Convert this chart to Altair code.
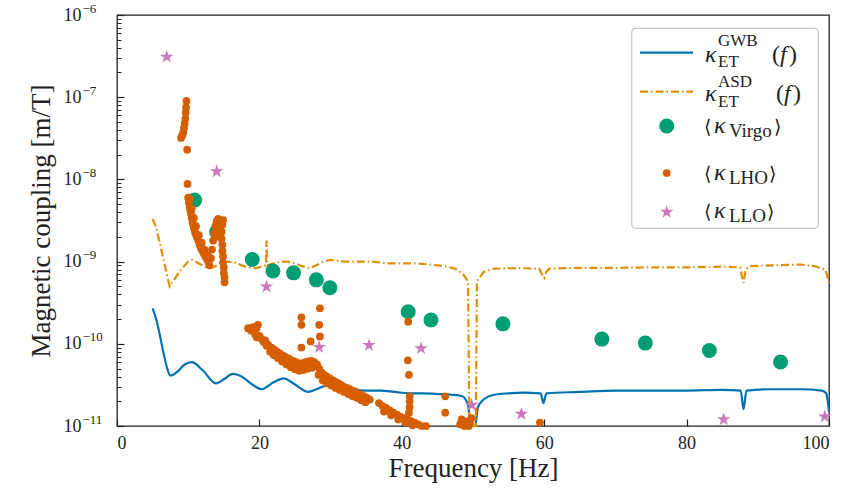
import altair as alt
import pandas as pd

# ---------------- data ----------------
freq_ticks = [0, 20, 40, 60, 80, 100]
y_major = [1e-11, 1e-10, 1e-9, 1e-8, 1e-7, 1e-6]
y_exponents = ["−11", "−10", "−9", "−8", "−7", "−6"]
y_minor = [m * 10.0 ** e for e in range(-11, -6) for m in range(2, 10)]

gwb_f = [5.0, 5.5, 6.0, 6.5, 7.0, 7.5, 8.5, 9.5, 10.5, 12.0, 13.9, 15.0, 16.3, 17.5,
         19.0, 20.3, 22.0, 23.4, 25.0, 26.9, 28.0, 29.5, 31.0, 33.0, 35.0, 37.0, 39.0,
         41.0, 43.0, 45.0, 47.0, 48.5, 49.3, 49.7, 50.0, 50.3, 50.7, 51.5, 53.0, 55.0,
         57.0, 59.5, 59.9, 60.3, 65.0, 70.0, 75.0, 80.0, 85.0, 87.6, 88.0, 88.4, 92.0,
         96.0, 99.0, 99.6, 100.0]
gwb_k = [2.7e-10, 2.0e-10, 1.3e-10, 8e-11, 5.2e-11, 4.1e-11, 4.6e-11, 5.6e-11, 6.0e-11,
         4.8e-11, 3.3e-11, 3.7e-11, 4.3e-11, 4.0e-11, 3.2e-11, 2.8e-11, 3.4e-11, 3.8e-11,
         3.2e-11, 2.6e-11, 2.8e-11, 3.1e-11, 3.0e-11, 2.8e-11, 2.7e-11, 2.7e-11, 2.6e-11,
         2.5e-11, 2.5e-11, 2.45e-11, 2.4e-11, 2.3e-11, 1.8e-11, 8e-12, 5e-12, 8e-12,
         1.7e-11, 2.1e-11, 2.4e-11, 2.5e-11, 2.55e-11, 2.5e-11, 1.9e-11, 2.5e-11, 2.6e-11,
         2.7e-11, 2.7e-11, 2.7e-11, 2.75e-11, 2.7e-11, 1.6e-11, 2.7e-11, 2.8e-11, 2.8e-11,
         2.7e-11, 2.5e-11, 1.5e-11]

asd_f = [5.0, 5.5, 6.0, 6.5, 7.0, 7.4, 8.0, 9.0, 10.0, 10.5, 11.5, 12.5, 13.5, 14.5,
         15.5, 16.5, 17.5, 18.5, 19.5, 20.5, 20.9, 21.0, 21.1, 22.0, 23.0, 24.0, 25.0,
         26.0, 27.0, 28.0, 29.0, 30.0, 32.0, 34.0, 36.0, 38.0, 40.0, 42.0, 44.0, 46.0,
         47.5, 48.5, 49.3, 49.5, 50.4, 50.55, 51.5, 53.0, 55.0, 57.0, 59.3, 59.7, 60.0,
         60.3, 60.7, 65.0, 70.0, 75.0, 80.0, 85.0, 87.5, 87.8, 88.0, 88.3, 88.8, 92.0,
         96.0, 98.0, 99.5, 100.0]
asd_k = [3.3e-9, 2.6e-9, 1.7e-9, 1.1e-9, 7e-10, 5.0e-10, 6.0e-10, 8.0e-10, 1.0e-9,
         1.05e-9, 9.5e-10, 8.5e-10, 8.5e-10, 9.5e-10, 1.0e-9, 9.8e-10, 9.0e-10, 8.5e-10,
         8.3e-10, 8.8e-10, 9e-10, 1.8e-9, 9e-10, 9.5e-10, 1.0e-9, 1.0e-9, 9.5e-10,
         8.8e-10, 8.3e-10, 9e-10, 1.0e-9, 1.05e-9, 1.0e-9, 1.0e-9, 1.0e-9, 9.5e-10,
         9.5e-10, 9.5e-10, 9.2e-10, 8.8e-10, 8.2e-10, 7.2e-10, 5.8e-10, 3e-12, 3e-12,
         5.8e-10, 7.5e-10, 8.2e-10, 8.3e-10, 8.3e-10, 8.2e-10, 7e-10, 6.3e-10, 7.5e-10,
         8.2e-10, 8.4e-10, 8.4e-10, 8.5e-10, 8.5e-10, 8.7e-10, 8.5e-10, 6.5e-10, 5.5e-10,
         8e-10, 8.8e-10, 9e-10, 9.2e-10, 8.8e-10, 8e-10, 5.5e-10]

virgo_f = [10.9, 14.0, 19.0, 21.9, 24.8, 28.0, 29.9, 40.9, 44.1, 54.2, 68.1, 74.2, 83.2, 93.2]
virgo_k = [5.6e-9, 2.3e-9, 1.06e-9, 7.7e-10, 7.3e-10, 6.0e-10, 4.8e-10, 2.45e-10,
           1.95e-10, 1.75e-10, 1.14e-10, 1.02e-10, 8.3e-11, 6.0e-11]

llo_f = [6.98, 14.0, 21.0, 28.4, 35.4, 42.7, 49.8, 56.8, 85.2, 99.4]
llo_k = [3.1e-7, 1.25e-8, 4.95e-10, 9.1e-11, 9.6e-11, 8.8e-11, 1.8e-11, 1.4e-11,
         1.2e-11, 1.3e-11]

# LHO: [frequency, coupling] pairs
lho_pts = [
    # 9-10 Hz streak
    [9.75, 9e-8], [9.7, 7.5e-8], [9.65, 6.5e-8], [9.6, 5.5e-8], [9.5, 4.8e-8],
    [9.4, 4.2e-8], [9.3, 3.7e-8], [9.15, 3.4e-8], [9.0, 3.2e-8], [9.85, 2.3e-8],
    [9.9, 8.8e-9],
    # band 10-13 Hz
    [10.0, 6.0e-9], [10.1, 5.2e-9], [10.2, 4.6e-9], [10.3, 4.2e-9], [10.4, 3.8e-9],
    [10.5, 3.4e-9], [10.6, 3.0e-9], [10.7, 2.8e-9], [10.8, 2.6e-9], [10.9, 2.4e-9],
    [11.0, 2.2e-9], [11.2, 2.0e-9], [11.4, 1.8e-9], [11.6, 1.6e-9], [11.8, 1.45e-9],
    [12.0, 1.35e-9], [12.2, 1.25e-9], [12.4, 1.15e-9], [12.6, 1.08e-9], [12.8, 1.0e-9],
    [13.0, 9.0e-10], [10.2, 5.8e-9], [10.5, 4.4e-9], [10.8, 3.4e-9], [11.1, 2.7e-9],
    [11.5, 2.1e-9], [11.9, 1.7e-9], [12.3, 1.4e-9], [12.7, 1.2e-9],
    # 13-15 Hz
    [13.2, 1.1e-9], [13.35, 1.4e-9], [13.5, 1.8e-9], [13.65, 2.2e-9], [13.8, 2.7e-9],
    [14.0, 3.1e-9], [14.2, 3.3e-9], [14.5, 3.0e-9], [14.8, 2.8e-9], [14.9, 3.2e-9],
    [14.7, 2.3e-9], [14.7, 1.9e-9], [14.8, 1.6e-9], [14.8, 1.35e-9], [14.9, 1.15e-9],
    [14.9, 9.8e-10], [15.0, 8.5e-10], [15.0, 7.3e-10], [15.1, 6.4e-10], [15.1, 5.6e-10],
    [14.4, 2.6e-9], [14.3, 2.0e-9],
    # 18-21 Hz
    [18.4, 1.55e-10], [18.8, 1.45e-10], [19.1, 1.6e-10], [19.4, 1.3e-10], [19.6, 1.55e-10],
    [19.8, 1.7e-10], [19.6, 1.2e-10], [20.0, 1.25e-10], [20.3, 1.15e-10], [20.6, 1.05e-10],
    [20.8, 1.1e-10], [21.0, 9.5e-11], [21.1, 1.0e-10],
    # descending band 21-36 Hz (upper row)
    [21.3, 9.5e-11], [21.7, 9e-11], [22.1, 8.5e-11], [22.5, 8e-11], [22.9, 7.6e-11],
    [23.3, 7.2e-11], [23.7, 6.9e-11], [24.1, 6.6e-11], [24.5, 6.3e-11], [24.9, 6.1e-11],
    [25.3, 5.9e-11], [25.7, 5.7e-11], [26.1, 5.8e-11], [26.5, 6.0e-11], [26.9, 6.1e-11],
    [27.3, 6.2e-11], [27.7, 6.0e-11], [28.1, 5.6e-11], [28.4, 5.0e-11], [28.7, 4.5e-11],
    [29.1, 4.2e-11], [29.5, 4.0e-11], [29.9, 3.8e-11], [30.3, 3.6e-11], [30.7, 3.45e-11],
    [31.1, 3.3e-11], [31.5, 3.15e-11], [31.9, 3.0e-11], [32.3, 2.9e-11], [32.7, 2.8e-11],
    [33.1, 2.7e-11], [33.5, 2.6e-11], [33.9, 2.5e-11], [34.3, 2.4e-11], [34.7, 2.3e-11],
    [35.1, 2.2e-11], [35.5, 2.1e-11],
    # descending band (lower row)
    [21.5, 8e-11], [22.0, 7.3e-11], [22.6, 6.7e-11], [23.2, 6.1e-11], [23.8, 5.6e-11],
    [24.4, 5.2e-11], [25.0, 4.9e-11], [25.6, 4.7e-11], [26.2, 4.8e-11], [26.8, 5.0e-11],
    [27.4, 5.1e-11], [28.3, 4.2e-11], [28.9, 3.6e-11], [29.5, 3.3e-11], [30.1, 3.1e-11],
    [30.7, 2.9e-11], [31.3, 2.75e-11], [31.9, 2.6e-11], [32.5, 2.45e-11], [33.1, 2.3e-11],
    [33.7, 2.2e-11], [34.3, 2.05e-11], [34.9, 1.95e-11],
    # scattered 26-28.5 Hz
    [28.5, 2.7e-10], [25.9, 2.1e-10], [25.9, 1.7e-10], [28.4, 1.7e-10], [28.5, 1.23e-10],
    [27.2, 1.07e-10], [25.9, 9e-11],
    # 36-44 Hz cluster
    [36.8, 1.9e-11], [37.3, 1.75e-11], [37.8, 1.65e-11], [38.3, 1.55e-11], [38.8, 1.45e-11],
    [39.3, 1.38e-11], [39.8, 1.3e-11], [40.3, 1.25e-11], [40.8, 1.2e-11], [41.3, 1.15e-11],
    [41.8, 1.1e-11], [42.3, 1.05e-11], [42.8, 1.0e-11], [43.4, 9.6e-12], [37.5, 1.5e-11],
    [38.5, 1.35e-11], [39.5, 1.2e-11], [40.5, 1.1e-11], [41.5, 1.02e-11],
    # column at 41 Hz
    [40.9, 1.86e-10], [40.85, 6.3e-11], [41.0, 4.2e-11], [41.1, 2.3e-11], [41.1, 2.0e-11],
    [41.1, 1.7e-11], [41.0, 1.45e-11],
    # 46-50 Hz
    [46.1, 2.3e-11], [46.1, 1.45e-11], [48.2, 1.05e-11], [48.4, 1.2e-11], [48.7, 1.1e-11],
    [49.0, 1.05e-11], [49.3, 1.15e-11], [49.6, 1.1e-11], [48.8, 1.0e-11], [49.4, 1.0e-11],
    [49.8, 1.25e-11],
    # near 60 Hz
    [59.4, 1.1e-11],
]

# ---------------- styling ----------------
C_GWB = "#0173b2"
C_ASD = "#de8f05"
C_VIR = "#029e73"
C_LHO = "#d55e00"
C_LLO = "#cc78bc"
SERIF = "Liberation Serif"
BRACKET_FONT = "DejaVu Serif"
INK = "#222"
W, H = 712, 411
STAR = ("M0,-1L0.2245,-0.309L0.951,-0.309L0.363,0.118L0.588,0.809L0,0.382"
        "L-0.588,0.809L-0.363,0.118L-0.951,-0.309L-0.2245,-0.309Z")

gwb = pd.DataFrame({"f": gwb_f, "k": gwb_k})
asd = pd.DataFrame({"f": asd_f, "k": asd_k})
virgo = pd.DataFrame({"f": virgo_f, "k": virgo_k})
llo = pd.DataFrame({"f": llo_f, "k": llo_k})
lho = pd.DataFrame(lho_pts, columns=["f", "k"])
one = pd.DataFrame({"v": [0]})

xs = alt.Scale(domain=[0, 100], nice=False, zero=False)
ys = alt.Scale(type="log", domain=[1e-11, 1e-6], nice=False, clamp=True)

exp_expr = ("[" + ",".join("'%s'" % e for e in y_exponents) + "]"
            "[round(log(datum.value)/LN10)+11]")

x_axis = alt.Axis(values=freq_ticks, orient="bottom", tickSize=7, offset=-7, domain=False,
                  grid=False, tickColor=INK, tickWidth=1.2, labelFont=SERIF,
                  labelFontSize=18, labelColor=INK, labelPadding=8,
                  title="Frequency [Hz]", titleFont=SERIF, titleFontSize=27,
                  titleFontWeight="normal", titleColor=INK, titlePadding=3)
# "10" part of the y tick labels (plus major ticks and the title)
y_axis = alt.Axis(values=y_major, orient="left", tickSize=7, offset=-7, domain=False,
                  grid=False, tickColor=INK, tickWidth=1.2, labelExpr="'10'",
                  labelFont=SERIF, labelFontSize=18, labelColor=INK, labelPadding=36,
                  labelAlign="right", labelOverlap=False,
                  title="Magnetic coupling [m/T]", titleFont=SERIF, titleFontSize=27,
                  titleFontWeight="normal", titleColor=INK, titlePadding=8)
# exponent part of the y tick labels
y_exp_axis = alt.Axis(values=y_major, orient="left", ticks=False, offset=0, domain=False,
                      grid=False, labelExpr=exp_expr, labelFont=SERIF, labelFontSize=13,
                      labelColor=INK, labelPadding=35, labelAlign="left",
                      labelOffset=-7, labelOverlap=False, title=None)
y_minor_axis = alt.Axis(values=y_minor, orient="left", tickSize=4, offset=-4,
                        domain=False, grid=False, labels=False, tickColor=INK,
                        tickWidth=1, title=None)

axes_layer = alt.Chart(virgo).mark_point(opacity=0).encode(
    x=alt.X("f:Q", scale=xs, axis=x_axis),
    y=alt.Y("k:Q", scale=ys, axis=y_axis),
)
exp_layer = alt.Chart(virgo).mark_point(opacity=0).encode(
    x=alt.X("f:Q", scale=xs, axis=None),
    y=alt.Y("k:Q", scale=ys, axis=y_exp_axis),
)
minor_layer = alt.Chart(virgo).mark_point(opacity=0).encode(
    x=alt.X("f:Q", scale=xs, axis=None),
    y=alt.Y("k:Q", scale=ys, axis=y_minor_axis),
)

def xy():
    return dict(x=alt.X("f:Q", scale=xs, axis=None), y=alt.Y("k:Q", scale=ys, axis=None))

gwb_line = alt.Chart(gwb).mark_line(color=C_GWB, strokeWidth=2.2,
                                    interpolate="monotone").encode(**xy())
asd_line = alt.Chart(asd).mark_line(color=C_ASD, strokeWidth=2.2,
                                    strokeDash=[8, 3, 1.5, 3]).encode(**xy())
virgo_pts = alt.Chart(virgo).mark_point(shape="circle", filled=True, opacity=1, color=C_VIR,
                                        size=225).encode(**xy())
lho_dots = alt.Chart(lho).mark_point(shape="circle", filled=True, opacity=1, color=C_LHO,
                                     size=60).encode(**xy())
llo_stars = alt.Chart(llo).mark_point(shape=STAR, filled=True, opacity=1, color=C_LLO,
                                      size=200).encode(**xy())

plot = alt.layer(
    axes_layer, exp_layer, minor_layer, gwb_line, asd_line, virgo_pts, lho_dots, llo_stars
).resolve_axis(x="independent", y="independent").resolve_scale(x="shared", y="shared")

# ---------------- legend (drawn by hand) ----------------
def text(s, x, y, size, style="normal", font=SERIF):
    return alt.Chart(one).mark_text(text=s, font=font, fontSize=size, fontStyle=style,
                                    align="left", baseline="alphabetic",
                                    color=INK).encode(x=alt.value(x), y=alt.value(y))

legend_box = alt.Chart(one).mark_rect(fill="white", stroke="#c8c8c8", strokeWidth=1.2,
                                      cornerRadius=4).encode(
    x=alt.value(514.7), x2=alt.value(701.3), y=alt.value(13.3), y2=alt.value(213.3))
leg_gwb = alt.Chart(one).mark_rule(color=C_GWB, strokeWidth=2.2).encode(
    x=alt.value(523), x2=alt.value(576), y=alt.value(37.7))
leg_asd = alt.Chart(one).mark_rule(color=C_ASD, strokeWidth=2.2,
                                   strokeDash=[8, 3, 1.5, 3]).encode(
    x=alt.value(523), x2=alt.value(576), y=alt.value(76.7))
leg_vir = alt.Chart(one).mark_point(shape="circle", filled=True, opacity=1, color=C_VIR,
                                    size=225).encode(x=alt.value(549.7), y=alt.value(111))
leg_lho = alt.Chart(one).mark_point(shape="circle", filled=True, opacity=1, color=C_LHO,
                                    size=60).encode(x=alt.value(549.7), y=alt.value(158))
leg_llo = alt.Chart(one).mark_point(shape=STAR, filled=True, opacity=1, color=C_LLO,
                                    size=200).encode(x=alt.value(549.7), y=alt.value(197))

legend_texts = [
    text("κ", 588, 47, 24, "italic"), text("GWB", 601, 31, 17), text("ET", 601, 52, 17),
    text("(", 655, 47, 24), text("f", 663, 47, 24, "italic"), text(")", 672, 47, 24),
    text("κ", 588, 86, 24, "italic"), text("ASD", 601, 72, 17), text("ET", 601, 92, 17),
    text("(", 659, 86, 24), text("f", 667, 86, 24, "italic"), text(")", 676, 86, 24),
    text("⟨", 587, 118, 19, font=BRACKET_FONT), text("κ", 597, 118, 24, "italic"),
    text("Virgo", 612, 122, 19), text("⟩", 657, 118, 19, font=BRACKET_FONT),
    text("⟨", 587, 165, 19, font=BRACKET_FONT), text("κ", 597, 165, 24, "italic"),
    text("LHO", 612, 169, 19), text("⟩", 652, 165, 19, font=BRACKET_FONT),
    text("⟨", 587, 203, 19, font=BRACKET_FONT), text("κ", 597, 203, 24, "italic"),
    text("LLO", 612, 207, 19), text("⟩", 650, 203, 19, font=BRACKET_FONT),
]

legend = alt.layer(legend_box, leg_gwb, leg_asd, leg_vir, leg_lho, leg_llo, *legend_texts)

chart = alt.layer(plot, legend).properties(
    width=W, height=H,
    autosize=alt.AutoSizeParams(type="none"),
    padding={"left": 117, "top": 15, "right": 20, "bottom": 68},
    background="white",
).configure_view(stroke=INK, strokeWidth=1.3)

chart.save("out.html", embed_options={"renderer": "svg", "actions": False})
